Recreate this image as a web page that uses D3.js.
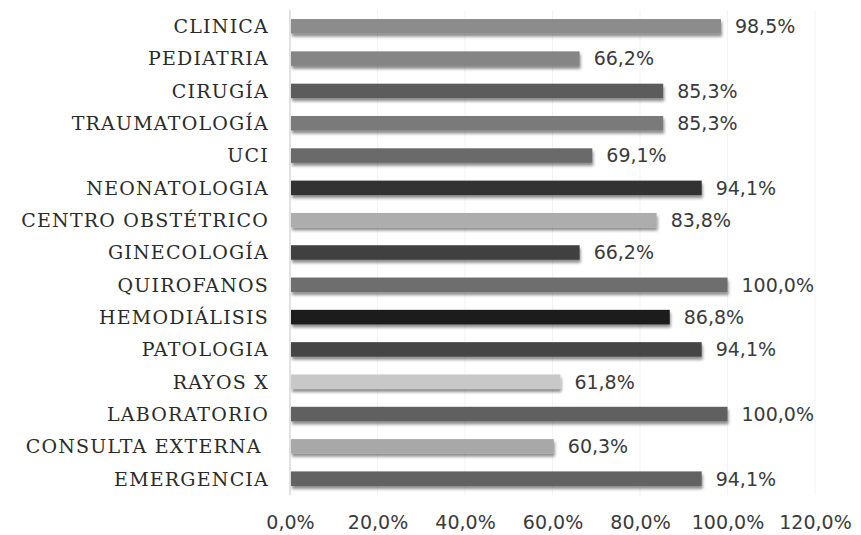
<!DOCTYPE html>
<html>
<head>
<meta charset="utf-8">
<script src="https://cdn.jsdelivr.net/npm/d3@7"></script>
<style>
  body { margin: 0; background: #fff; }
  .cat { font-family: "DejaVu Serif", serif; font-size: 19px; letter-spacing: 1.2px; fill: #2a2a2a; }
  .val, .tick text { font-family: "DejaVu Sans", sans-serif; font-size: 19px; fill: #3a3a3a; }
</style>
</head>
<body>
<svg></svg>
<script>
  //Categories, top to bottom
  const categories = ['CLINICA', 'PEDIATRIA', 'CIRUGÍA', 'TRAUMATOLOGÍA', 'UCI', 'NEONATOLOGIA',
    'CENTRO OBSTÉTRICO', 'GINECOLOGÍA', 'QUIROFANOS', 'HEMODIÁLISIS', 'PATOLOGIA', 'RAYOS X',
    'LABORATORIO', 'CONSULTA EXTERNA ', 'EMERGENCIA'];
  //Percent values
  const values = [98.5, 66.2, 85.3, 85.3, 69.1, 94.1, 83.8, 66.2, 100.0, 86.8, 94.1, 61.8, 100.0, 60.3, 94.1];
  //Grey shade of each bar
  const barColors = ['#8c8c8c', '#858585', '#5c5c5c', '#7a7a7a', '#6a6a6a', '#303030', '#adadad', '#3f3f3f',
    '#6e6e6e', '#1a1a1a', '#454545', '#c8c8c8', '#616161', '#a8a8a8', '#626262'];
  const xTicks = [0, 20, 40, 60, 80, 100, 120];

  const width = 861;
  const height = 535;
  const svg = d3.select('svg').attr('width', width).attr('height', height);

  const fmt = v => v.toFixed(1).replace('.', ',') + '%';

  const x = d3.scaleLinear().domain([0, 120]).range([290, 815]);
  const y = d3.scaleBand().domain(categories).range([10, 495]).paddingInner(0.55).paddingOuter(0.28);

  //Drop shadow under the bars
  const defs = svg.append('defs');
  defs.append('filter')
    .attr('id', 'shadow')
    .attr('x', '-5%').attr('y', '-30%').attr('width', '110%').attr('height', '180%')
    .append('feDropShadow')
    .attr('dx', 1).attr('dy', 3).attr('stdDeviation', 1.4)
    .attr('flood-color', '#000').attr('flood-opacity', 0.45);

  //Faint vertical gridlines
  svg.append('g')
    .selectAll('line')
    .data(xTicks.slice(1))
    .enter().append('line')
    .attr('x1', d => x(d)).attr('x2', d => x(d))
    .attr('y1', 10).attr('y2', 495)
    .attr('stroke', '#f3f3f3');

  //Bars
  svg.append('g')
    .selectAll('rect')
    .data(categories)
    .enter().append('rect')
    .attr('x', x(0) + 1)
    .attr('y', d => y(d))
    .attr('width', (d, i) => x(values[i]) - x(0) - 1)
    .attr('height', y.bandwidth())
    .attr('fill', (d, i) => barColors[i])
    .attr('filter', 'url(#shadow)');

  //Value labels
  svg.append('g')
    .selectAll('text')
    .data(categories)
    .enter().append('text')
    .attr('class', 'val')
    .attr('x', (d, i) => x(values[i]) + 14)
    .attr('y', d => y(d) + y.bandwidth() / 2)
    .attr('dy', '0.36em')
    .text((d, i) => fmt(values[i]));

  //Category labels (letter-spacing leaves a trailing gap, so nudge right)
  svg.append('g')
    .selectAll('text')
    .data(categories)
    .enter().append('text')
    .attr('class', 'cat')
    .attr('x', 269)
    .attr('y', d => y(d) + y.bandwidth() / 2)
    .attr('dy', '0.36em')
    .attr('text-anchor', 'end')
    .attr('xml:space', 'preserve')
    .text(d => d);

  //Vertical axis line
  svg.append('line')
    .attr('x1', x(0)).attr('x2', x(0))
    .attr('y1', 10).attr('y2', 495)
    .attr('stroke', '#d9d9d9')
    .attr('stroke-width', 1.5);

  //Bottom tick labels
  const xAxis = d3.axisBottom(x).tickValues(xTicks).tickFormat(fmt).tickSize(0).tickPadding(0);
  const ax = svg.append('g').attr('transform', 'translate(0,515)').call(xAxis);
  ax.select('.domain').remove();
  ax.selectAll('text').attr('fill', '#3a3a3a');
</script>
</body>
</html>
